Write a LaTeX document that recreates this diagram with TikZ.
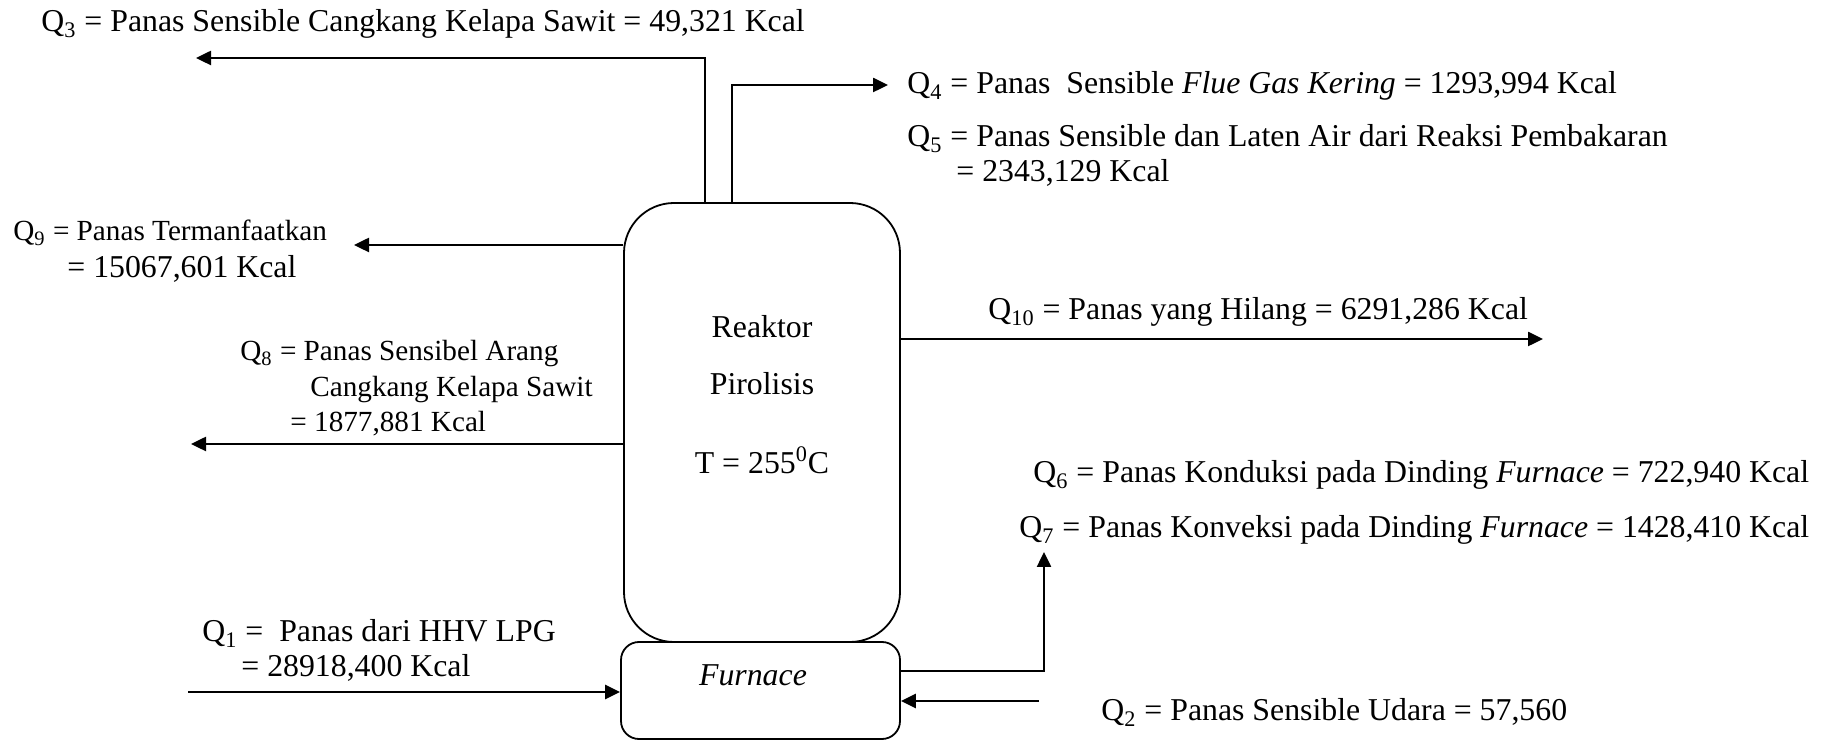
\documentclass[tikz,border=0pt]{standalone}
\usepackage{fontspec}
\setmainfont{Liberation Serif}
\usetikzlibrary{arrows.meta}
\begin{document}
\begin{tikzpicture}[x=0.5pt,y=-0.5pt,
  txt/.style={font=\fontsize{15.9}{17.5}\selectfont, inner sep=0pt, anchor=base west},
  stxt/.style={font=\fontsize{14.6}{17.5}\selectfont, inner sep=0pt, anchor=base west},
  ctxt/.style={font=\fontsize{15.9}{17.5}\selectfont, inner sep=0pt, anchor=base},
  arr/.style={line width=1.25pt, -{Triangle[length=7.5pt,width=7pt]}},
  box/.style={draw, line width=0.9pt, rectangle, inner sep=0pt}]
\useasboundingbox (0,0) rectangle (1833,742);

% vessels
\node[box, rounded corners=25pt, minimum width=138pt, minimum height=219.5pt] (reactor) at (762,422.5) {};
\node[box, rounded corners=9pt, minimum width=139.5pt, minimum height=48.5pt] (furnace) at (760.5,690.5) {};

% texts inside
\node[ctxt] (tReaktor) at (762,338) {Reaktor};
\node[ctxt] (tPirolisis) at (762,395) {Pirolisis};
\node[ctxt] (tTemp) at (762,474) {T = 255\textsuperscript{0}C};
\node[ctxt] (tFurnace) at (753,686) {\itshape Furnace};

% coordinates for free ends
\coordinate (q3turn) at (705,58);
\coordinate (q3end) at (196,58);
\coordinate (q4turn) at (732,85);
\coordinate (q4end) at (888,85);
\coordinate (q9end) at (354,245);
\coordinate (q8end) at (191,444);
\coordinate (q10end) at (1543,339);
\coordinate (q7turn) at (1044,671);
\coordinate (q7end) at (1044,552);
\coordinate (q2start) at (1039,701);
\coordinate (q1start) at (188,692);

% connectors
\draw[arr] (reactor.north -| q3turn) -- (q3turn) -- (q3end);
\draw[arr] (reactor.north -| q4turn) -- (q4turn) -- (q4end);
\draw[arr] (reactor.west |- q9end) -- (q9end);
\draw[arr] (reactor.west |- q8end) -- (q8end);
\draw[arr] (reactor.east |- q10end) -- (q10end);
\draw[arr] (furnace.east |- q7turn) -- (q7turn) -- (q7end);
\draw[arr] (q2start) -- (furnace.east |- q2start);
\draw[arr] (q1start) -- (furnace.west |- q1start);

% labels
\node[txt] (q3) at (41,32) {Q\textsubscript{3} = Panas Sensible Cangkang Kelapa Sawit = 49,321 Kcal};
\node[txt] (q4) at (907,94) {Q\textsubscript{4} = Panas\ \ Sensible \textit{Flue Gas Kering} = 1293,994 Kcal};
\node[txt] (q5a) at (907,147) {Q\textsubscript{5} = Panas Sensible dan Laten Air dari Reaksi Pembakaran};
\node[txt] (q5b) at (956,182) {= 2343,129 Kcal};
\node[stxt] (q9a) at (13,241) {Q\textsubscript{9} = Panas Termanfaatkan};
\node[txt] (q9b) at (67,278) {= 15067,601 Kcal};
\node[stxt] (q8a) at (240,361) {Q\textsubscript{8} = Panas Sensibel Arang};
\node[stxt] (q8b) at (310,397) {Cangkang Kelapa Sawit};
\node[stxt] (q8c) at (290,432) {= 1877,881 Kcal};
\node[txt] (q10) at (988,320) {Q\textsubscript{10} = Panas yang Hilang = 6291,286 Kcal};
\node[txt] (q6) at (1033,483) {Q\textsubscript{6} = Panas Konduksi pada Dinding \textit{Furnace} = 722,940 Kcal};
\node[txt] (q7) at (1019,538) {Q\textsubscript{7} = Panas Konveksi pada Dinding \textit{Furnace} = 1428,410 Kcal};
\node[txt] (q2) at (1101,721) {Q\textsubscript{2} = Panas Sensible Udara = 57,560};
\node[txt] (q1a) at (202,642) {Q\textsubscript{1} =\ \ Panas dari HHV LPG};
\node[txt] (q1b) at (241,677) {= 28918,400 Kcal};
\end{tikzpicture}
\end{document}
